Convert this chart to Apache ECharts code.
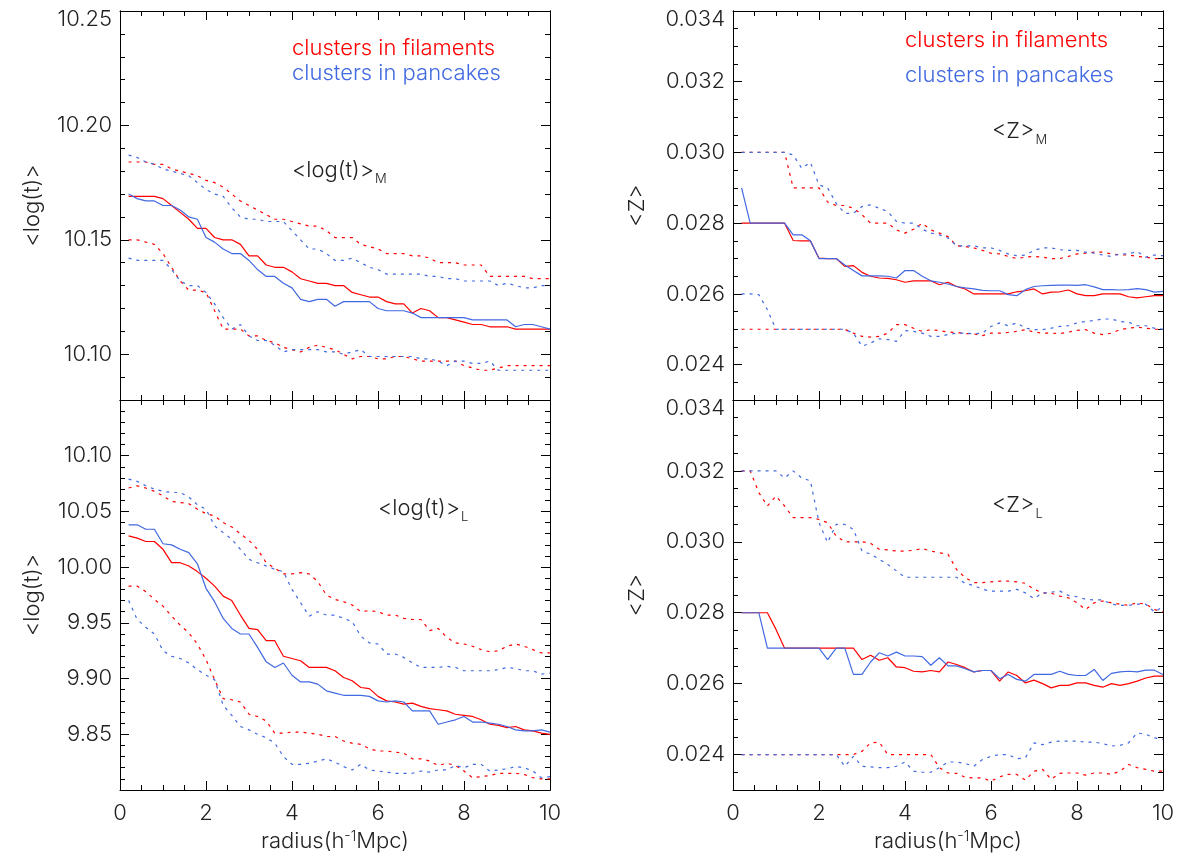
<!DOCTYPE html>
<html><head><meta charset="utf-8">
<script src="https://cdn.jsdelivr.net/npm/echarts@6/dist/echarts.min.js"></script>
<style>html,body{margin:0;padding:0;background:#fff}#c{width:1184px;height:858px}</style>
</head><body><div id="c"></div>
<script>
// ---------------- data ----------------
const radius = [0.2,0.4,0.6,0.8,1.0,1.2,1.4,1.6,1.8,2.0,2.2,2.4,2.6,2.8,3.0,3.2,3.4,3.6,3.8,4.0,
  4.2,4.4,4.6,4.8,5.0,5.2,5.4,5.6,5.8,6.0,6.2,6.4,6.6,6.8,7.0,7.2,7.4,7.6,7.8,8.0,
  8.2,8.4,8.6,8.8,9.0,9.2,9.4,9.6,9.8,10.0];

// top-left: <log(t)>_M
const tlRedMean = [10.169,10.169,10.169,10.169,10.168,10.165,10.162,10.159,10.155,10.155,
  10.151,10.150,10.150,10.148,10.143,10.143,10.139,10.138,10.138,10.136,
  10.133,10.132,10.131,10.131,10.130,10.130,10.127,10.126,10.125,10.125,
  10.123,10.122,10.122,10.118,10.120,10.119,10.116,10.116,10.115,10.114,
  10.113,10.113,10.112,10.112,10.112,10.111,10.111,10.111,10.111,10.111];
const tlBlueMean = [10.170,10.168,10.167,10.167,10.165,10.165,10.163,10.160,10.159,10.151,
  10.149,10.146,10.144,10.144,10.141,10.137,10.134,10.134,10.131,10.129,
  10.124,10.123,10.124,10.124,10.121,10.123,10.123,10.123,10.123,10.120,
  10.119,10.119,10.119,10.118,10.116,10.116,10.116,10.116,10.116,10.116,
  10.115,10.115,10.115,10.115,10.115,10.112,10.113,10.113,10.112,10.111];
const tlRedHi = [10.184,10.184,10.184,10.183,10.183,10.181,10.180,10.179,10.178,10.176,
  10.175,10.173,10.170,10.167,10.165,10.163,10.161,10.159,10.159,10.158,
  10.157,10.156,10.156,10.154,10.151,10.151,10.151,10.148,10.147,10.146,
  10.144,10.144,10.144,10.143,10.143,10.142,10.140,10.140,10.140,10.139,
  10.139,10.139,10.134,10.134,10.134,10.134,10.134,10.133,10.133,10.133];
const tlBlueHi = [10.187,10.186,10.184,10.183,10.181,10.180,10.179,10.178,10.175,10.172,
  10.170,10.169,10.164,10.160,10.159,10.159,10.158,10.158,10.158,10.154,
  10.150,10.146,10.146,10.144,10.141,10.141,10.142,10.140,10.138,10.137,
  10.135,10.135,10.135,10.135,10.135,10.134,10.134,10.133,10.133,10.132,
  10.132,10.132,10.132,10.130,10.131,10.130,10.129,10.129,10.130,10.130];
const tlRedLo = [10.150,10.150,10.149,10.148,10.144,10.138,10.132,10.128,10.128,10.127,
  10.119,10.111,10.111,10.111,10.108,10.108,10.106,10.105,10.103,10.102,
  10.101,10.103,10.104,10.103,10.102,10.100,10.098,10.099,10.099,10.098,
  10.098,10.099,10.099,10.098,10.097,10.097,10.097,10.097,10.097,10.095,
  10.094,10.093,10.093,10.094,10.095,10.095,10.095,10.095,10.095,10.095];
const tlBlueLo = [10.142,10.141,10.141,10.141,10.141,10.137,10.132,10.130,10.130,10.127,
  10.122,10.116,10.111,10.113,10.108,10.106,10.106,10.104,10.101,10.102,
  10.102,10.102,10.102,10.101,10.101,10.100,10.101,10.102,10.099,10.099,
  10.099,10.099,10.099,10.099,10.098,10.098,10.097,10.095,10.097,10.097,
  10.096,10.096,10.097,10.093,10.093,10.093,10.093,10.093,10.093,10.093];

// bottom-left: <log(t)>_L
const blRedMean = [10.028,10.026,10.023,10.023,10.016,10.004,10.004,10.001,9.996,9.990,
  9.983,9.974,9.970,9.957,9.945,9.944,9.934,9.934,9.920,9.918,
  9.916,9.910,9.910,9.910,9.907,9.901,9.898,9.892,9.891,9.884,
  9.880,9.879,9.877,9.878,9.875,9.873,9.872,9.871,9.868,9.867,
  9.866,9.863,9.859,9.858,9.856,9.857,9.854,9.853,9.851,9.850];
const blBlueMean = [10.038,10.038,10.034,10.034,10.021,10.020,10.016,10.013,10.003,9.981,
  9.969,9.954,9.945,9.940,9.940,9.928,9.915,9.910,9.914,9.903,
  9.897,9.897,9.895,9.889,9.887,9.885,9.885,9.885,9.884,9.880,
  9.879,9.880,9.879,9.871,9.871,9.871,9.859,9.861,9.863,9.866,
  9.861,9.861,9.860,9.859,9.857,9.854,9.853,9.853,9.854,9.852];
const blRedHi = [10.071,10.073,10.071,10.068,10.064,10.059,10.058,10.057,10.052,10.048,
  10.046,10.040,10.036,10.030,10.024,10.016,10.004,9.999,9.994,9.994,
  9.995,9.994,9.987,9.975,9.971,9.969,9.966,9.960,9.961,9.960,
  9.957,9.957,9.954,9.953,9.953,9.943,9.945,9.937,9.932,9.931,
  9.929,9.926,9.924,9.925,9.929,9.931,9.929,9.926,9.923,9.923];
const blBlueHi = [10.079,10.077,10.073,10.070,10.068,10.067,10.067,10.063,10.056,10.052,
  10.037,10.031,10.025,10.016,10.007,10.004,10.001,9.998,9.996,9.980,
  9.968,9.956,9.960,9.957,9.957,9.954,9.951,9.938,9.932,9.931,
  9.922,9.922,9.919,9.914,9.910,9.910,9.910,9.911,9.910,9.907,
  9.907,9.907,9.907,9.908,9.910,9.909,9.907,9.907,9.904,9.905];
const blRedLo = [9.983,9.983,9.978,9.971,9.965,9.956,9.948,9.941,9.931,9.917,
  9.899,9.882,9.881,9.879,9.868,9.866,9.862,9.851,9.851,9.852,
  9.852,9.851,9.850,9.848,9.848,9.844,9.842,9.841,9.837,9.835,
  9.835,9.834,9.833,9.828,9.828,9.826,9.822,9.824,9.822,9.817,
  9.811,9.812,9.813,9.815,9.815,9.815,9.814,9.811,9.810,9.810];
const blBlueLo = [9.970,9.953,9.946,9.940,9.925,9.920,9.918,9.914,9.908,9.903,
  9.899,9.876,9.867,9.857,9.854,9.850,9.847,9.842,9.830,9.823,
  9.823,9.824,9.826,9.828,9.825,9.821,9.818,9.823,9.818,9.817,
  9.816,9.815,9.815,9.815,9.817,9.816,9.818,9.818,9.822,9.820,
  9.823,9.823,9.817,9.818,9.819,9.821,9.820,9.817,9.811,9.812];

// top-right: <Z>_M
const trRedMean = [0.0280,0.0280,0.0280,0.0280,0.0280,0.0280,0.02751,0.0275,0.0275,0.02701,
  0.0270,0.0270,0.02678,0.0268,0.02661,0.0265,0.02645,0.02644,0.0264,0.02633,
  0.02637,0.02637,0.02637,0.02626,0.02633,0.02621,0.02614,0.0260,0.0260,0.0260,
  0.0260,0.0260,0.02606,0.02609,0.02614,0.0260,0.02605,0.02606,0.02611,0.0260,
  0.02595,0.02595,0.0260,0.0260,0.0260,0.02592,0.02589,0.02592,0.02595,0.02595];
const trBlueMean = [0.0290,0.0280,0.0280,0.0280,0.0280,0.0280,0.02767,0.02767,0.0275,0.0270,
  0.0270,0.0270,0.02682,0.02666,0.02651,0.02651,0.02651,0.0265,0.02645,0.02666,
  0.02666,0.0265,0.02637,0.02633,0.02628,0.02621,0.02617,0.02614,0.0261,0.02609,
  0.02609,0.02598,0.02595,0.02612,0.02621,0.02623,0.02624,0.02625,0.02625,0.02624,
  0.02626,0.0262,0.02612,0.02612,0.02611,0.02612,0.02615,0.02612,0.02605,0.02607];
const trRedHi = [0.0300,0.0300,0.0300,0.0300,0.0300,0.0300,0.0290,0.0290,0.0290,0.0290,
  0.0286,0.0285,0.0285,0.02842,0.02824,0.0280,0.0280,0.0280,0.02781,0.02772,
  0.02783,0.0280,0.02781,0.02772,0.02762,0.02736,0.02734,0.0273,0.02723,0.02715,
  0.02713,0.02706,0.0270,0.02704,0.02706,0.02704,0.0270,0.0270,0.02706,0.02713,
  0.02715,0.02718,0.02718,0.02713,0.0271,0.0271,0.02706,0.02704,0.0270,0.0270];
const trBlueHi = [0.0300,0.0300,0.0300,0.0300,0.0300,0.0300,0.02993,0.02955,0.02972,0.02908,
  0.0290,0.02856,0.02828,0.02828,0.02847,0.02852,0.02842,0.02833,0.02805,0.0280,
  0.0280,0.02783,0.02772,0.02767,0.02758,0.02736,0.02736,0.02736,0.0273,0.0273,
  0.02723,0.02713,0.02708,0.0271,0.02723,0.0273,0.0273,0.02725,0.02723,0.02723,
  0.02718,0.02715,0.0271,0.02706,0.02713,0.02713,0.0272,0.02704,0.0271,0.02708];
const trRedLo = [0.0250,0.0250,0.0250,0.0250,0.0250,0.0250,0.0250,0.0250,0.0250,0.0250,
  0.0250,0.0250,0.0250,0.02489,0.0248,0.02478,0.0248,0.02489,0.02513,0.02513,
  0.02503,0.02494,0.02499,0.02496,0.02492,0.02491,0.02488,0.02487,0.02482,0.02489,
  0.02489,0.02491,0.02494,0.02499,0.02492,0.02489,0.02489,0.02488,0.02492,0.02497,
  0.02499,0.02489,0.02485,0.02489,0.02499,0.02503,0.02506,0.02503,0.0250,0.0250];
const trBlueLo = [0.0260,0.0260,0.02598,0.02555,0.0250,0.0250,0.0250,0.0250,0.0250,0.0250,
  0.0250,0.0250,0.0250,0.02489,0.02452,0.02461,0.02473,0.02471,0.02466,0.02496,
  0.02494,0.02489,0.0248,0.0248,0.02485,0.02489,0.02489,0.02487,0.02489,0.02508,
  0.02518,0.0251,0.02518,0.02503,0.02499,0.02499,0.02503,0.02508,0.0251,0.02518,
  0.02522,0.02525,0.02529,0.02529,0.02522,0.0252,0.0251,0.0251,0.02503,0.0250];

// bottom-right: <Z>_L
const brRedMean = [0.0280,0.0280,0.0280,0.0280,0.02753,0.0270,0.0270,0.0270,0.0270,0.0270,
  0.0270,0.0270,0.0270,0.0270,0.02668,0.0268,0.02666,0.02673,0.02647,0.02645,
  0.02635,0.02633,0.02637,0.02633,0.02661,0.02654,0.02645,0.02633,0.02637,0.02637,
  0.02607,0.02633,0.02623,0.02602,0.0261,0.0260,0.02588,0.02595,0.02595,0.02602,
  0.02602,0.02595,0.0259,0.0260,0.02595,0.0260,0.02607,0.02616,0.02621,0.02621];
const brBlueMean = [0.0280,0.0280,0.0280,0.0270,0.0270,0.0270,0.0270,0.0270,0.0270,0.0270,
  0.02668,0.0270,0.0270,0.02626,0.02626,0.02661,0.02687,0.02678,0.02689,0.02678,
  0.02678,0.02676,0.02652,0.02673,0.0265,0.0265,0.02642,0.02633,0.02637,0.02637,
  0.02614,0.02626,0.02612,0.02607,0.02626,0.02626,0.02626,0.02635,0.02626,0.02623,
  0.02623,0.0264,0.02609,0.02629,0.02633,0.02635,0.02633,0.02638,0.02638,0.02626];
const brRedHi = [0.0320,0.0320,0.03139,0.03101,0.03129,0.03101,0.03068,0.03068,0.03068,0.03063,
  0.03054,0.03016,0.0300,0.0300,0.0300,0.02996,0.02979,0.02977,0.02974,0.02974,
  0.02976,0.02981,0.02974,0.02969,0.02965,0.02922,0.02899,0.02885,0.02885,0.02887,
  0.02889,0.02889,0.02887,0.02883,0.02866,0.02856,0.02855,0.02847,0.02842,0.02828,
  0.02809,0.02828,0.02833,0.02828,0.02824,0.02821,0.02828,0.02824,0.02809,0.02802];
const brBlueHi = [0.0320,0.0320,0.0320,0.0320,0.0320,0.0318,0.0320,0.0318,0.03172,0.03054,
  0.02998,0.03049,0.03049,0.03035,0.02974,0.02965,0.02951,0.02936,0.02918,0.0290,
  0.0290,0.0290,0.0290,0.0290,0.0290,0.0290,0.02882,0.02877,0.02866,0.02861,
  0.02861,0.02861,0.02866,0.02856,0.0284,0.02856,0.02858,0.02861,0.02849,0.02845,
  0.02838,0.02836,0.02836,0.02824,0.02821,0.02821,0.02824,0.02824,0.02802,0.02817];
const brRedLo = [0.0240,0.0240,0.0240,0.0240,0.0240,0.0240,0.0240,0.0240,0.0240,0.0240,
  0.0240,0.0240,0.0240,0.0240,0.02409,0.02433,0.02435,0.0240,0.0240,0.0240,
  0.0240,0.0240,0.0240,0.02363,0.02348,0.02347,0.02336,0.02334,0.02334,0.02325,
  0.02337,0.02344,0.02344,0.02328,0.02353,0.02358,0.0233,0.02347,0.02348,0.02348,
  0.02342,0.02348,0.02348,0.02344,0.02353,0.02372,0.02363,0.02358,0.02353,0.02353];
const brBlueLo = [0.0240,0.0240,0.0240,0.0240,0.0240,0.0240,0.0240,0.0240,0.0240,0.0240,
  0.0240,0.0240,0.02367,0.02395,0.02367,0.02365,0.02363,0.02363,0.02367,0.02379,
  0.02353,0.0235,0.0235,0.02363,0.02379,0.02379,0.02375,0.02367,0.02386,0.02395,
  0.0240,0.0240,0.02388,0.02391,0.02433,0.02428,0.02435,0.02438,0.02438,0.02438,
  0.02435,0.02435,0.02431,0.02424,0.02426,0.02433,0.02461,0.02457,0.02447,0.02443];

// tick labels
const xTickLabels = ['0','2','4','6','8','10'];
const tlYTickLabels = ['10.10','10.15','10.20','10.25'];
const blYTickLabels = ['9.85','9.90','9.95','10.00','10.05','10.10'];
const trYTickLabels = ['0.024','0.026','0.028','0.030','0.032','0.034'];
const brYTickLabels = ['0.024','0.026','0.028','0.030','0.032','0.034'];

// ---------------- chart ----------------
const FONT = 'Inter, "DejaVu Sans", sans-serif';
const FW = 300;
const TXT = '#222';
const RED = '#ff0000';
const BLUE = '#4169e1';
const FS = 22;

const grids = [
  {left:120, top:11, width:430, height:389},
  {left:120, top:400, width:430, height:390},
  {left:733, top:11, width:430, height:389},
  {left:733, top:400, width:430, height:390}
];
const panels = [
  {min:10.08, max:10.25, major:0.05, minor:0.01, digits:2, labels:tlYTickLabels, top:'10.25', yName:'<log(t)>', gap:77, xLab:false},
  {min:9.80, max:10.15, major:0.05, minor:0.01, digits:2, labels:blYTickLabels, top:null, yName:'<log(t)>', gap:77, xLab:true},
  {min:0.023, max:0.034, major:0.002, minor:0.0005, digits:3, labels:trYTickLabels, top:'0.034', yName:'<Z>', gap:85, xLab:false},
  {min:0.023, max:0.034, major:0.002, minor:0.0005, digits:3, labels:brYTickLabels, top:'0.034', yName:'<Z>', gap:85, xLab:true}
];

const lineBlack = {show:true, lineStyle:{color:'#000', width:1}};
const xAxes = [], yAxes = [];
panels.forEach((p, gi) => {
  const xBase = {type:'value', gridIndex:gi, min:0, max:10, interval:2,
    axisLine:lineBlack, splitLine:{show:false}, minorSplitLine:{show:false},
    axisTick:{show:true, inside:true, length:9, lineStyle:{color:'#000', width:1}},
    minorTick:{show:true, splitNumber:4, length:5, lineStyle:{color:'#000', width:1}}};
  xAxes.push(Object.assign({}, xBase, {position:'bottom',
    axisLabel:{show:p.xLab, margin:12, fontSize:FS, fontFamily:FONT, fontWeight:FW, color:TXT,
      formatter: v => { const s = String(+v.toFixed(4)); return xTickLabels.includes(s) ? s : ''; }},
    name: p.xLab ? 'radius(h{s|-1}Mpc)' : '', nameLocation:'middle', nameGap:40,
    nameTextStyle:{fontSize:FS, fontFamily:FONT, fontWeight:FW, color:TXT,
      rich:{s:{fontSize:14, fontFamily:FONT, fontWeight:FW, color:TXT, verticalAlign:'top', lineHeight:14, padding:[0,0,12,0]}}}
  }));
  xAxes.push(Object.assign({}, xBase, {position:'top', axisLabel:{show:false}}));

  const yBase = {type:'value', gridIndex:gi, min:p.min, max:p.max, axisLine:lineBlack,
    splitLine:{show:false}, scale:true};
  yAxes.push(Object.assign({}, yBase, {position:'left', minInterval:p.major, maxInterval:p.major, splitNumber:4,
    axisTick:{show:true, inside:true, length:9, lineStyle:{color:'#000', width:1}},
    axisLabel:{show:true, margin:8, fontSize:FS, fontFamily:FONT, fontWeight:FW, color:TXT,
      rich:{t:{fontSize:FS, fontFamily:FONT, fontWeight:FW, color:TXT, padding:[16,0,0,0]}},
      formatter: v => { const s = v.toFixed(p.digits); if (!p.labels.includes(s)) return ''; return s === p.top ? '{t|' + s + '}' : s; }},
    name:p.yName, nameLocation:'middle', nameRotate:90, nameGap:p.gap,
    nameTextStyle:{fontSize:FS, fontFamily:FONT, fontWeight:FW, color:TXT}}));
  yAxes.push(Object.assign({}, yBase, {position:'left', interval:p.minor,
    axisTick:{show:true, inside:true, length:5, lineStyle:{color:'#000', width:1}}, axisLabel:{show:false}}));
  yAxes.push(Object.assign({}, yBase, {position:'right', minInterval:p.major, maxInterval:p.major, splitNumber:4,
    axisTick:{show:true, inside:true, length:9, lineStyle:{color:'#000', width:1}}, axisLabel:{show:false}}));
  yAxes.push(Object.assign({}, yBase, {position:'right', interval:p.minor,
    axisTick:{show:true, inside:true, length:5, lineStyle:{color:'#000', width:1}}, axisLabel:{show:false}}));
});

function mk(name, gi, ys, color, dotted) {
  return {name, type:'line', xAxisIndex:2*gi, yAxisIndex:4*gi,
    data: radius.map((x, i) => [x, ys[i]]),
    showSymbol:false, symbol:'none', silent:true, animation:false, clip:true,
    lineStyle:{color, width:1.2, type: dotted ? [3,5] : 'solid'}, itemStyle:{color},
    z: dotted ? 2 : 3};
}
const sets = [
  [tlRedHi, tlRedLo, tlBlueHi, tlBlueLo, tlRedMean, tlBlueMean],
  [blRedHi, blRedLo, blBlueHi, blBlueLo, blRedMean, blBlueMean],
  [trRedHi, trRedLo, trBlueHi, trBlueLo, trRedMean, trBlueMean],
  [brRedHi, brRedLo, brBlueHi, brBlueLo, brRedMean, brBlueMean]
];
const series = [];
sets.forEach((s, gi) => {
  series.push(mk('filaments upper', gi, s[0], RED, true));
  series.push(mk('filaments lower', gi, s[1], RED, true));
  series.push(mk('pancakes upper', gi, s[2], BLUE, true));
  series.push(mk('pancakes lower', gi, s[3], BLUE, true));
  series.push(mk('clusters in filaments', gi, s[4], RED, false));
  series.push(mk('clusters in pancakes', gi, s[5], BLUE, false));
});

function txt(x, y, text, color, size) {
  return {type:'text', x, y, silent:true, style:{text, fill:color, font: FW + ' ' + size + 'px ' + FONT,
    align:'left', verticalAlign:'middle', textAlign:'left', textVerticalAlign:'middle'}};
}
function sub(x, y, main, s) {
  return {type:'text', x, y, silent:true, style:{text:'{a|' + main + '}{b|' + s + '}',
    align:'left', verticalAlign:'middle', textAlign:'left', textVerticalAlign:'middle',
    rich:{a:{fontSize:FS, fontFamily:FONT, fontWeight:FW, fill:TXT, verticalAlign:'middle'},
          b:{fontSize:13, fontFamily:FONT, fontWeight:FW, fill:TXT, verticalAlign:'top', lineHeight:13, padding:[14,0,0,1]}}}};
}

const chart = echarts.init(document.getElementById('c'), null, {renderer:'canvas'});
chart.setOption({
  backgroundColor:'#fff',
  animation:false,
  grid: grids.map(g => Object.assign({outerBoundsMode:'none', containLabel:false}, g)),
  xAxis: xAxes,
  yAxis: yAxes,
  series,
  graphic: [
    txt(292, 48, 'clusters in filaments', RED, 22),
    txt(292, 73, 'clusters in pancakes', BLUE, 22),
    txt(905, 40, 'clusters in filaments', RED, 22),
    txt(905, 75, 'clusters in pancakes', BLUE, 22),
    sub(292, 170, '<log(t)>', 'M'),
    sub(378, 508, '<log(t)>', 'L'),
    sub(992, 131, '<Z>', 'M'),
    sub(992, 505, '<Z>', 'L')
  ]
});
</script>
</body></html>
